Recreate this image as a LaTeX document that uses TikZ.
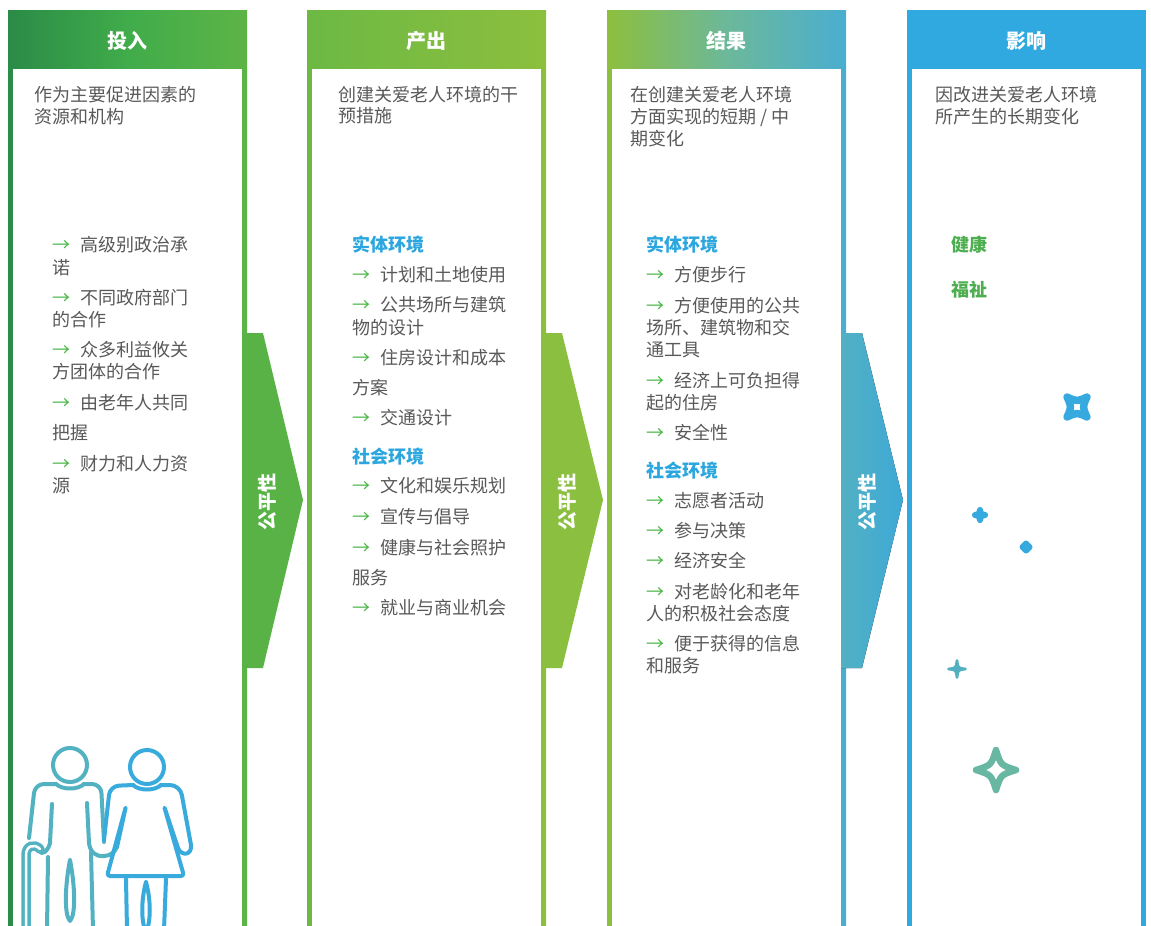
\documentclass[tikz,border=0pt]{standalone}
\usepackage{fontspec}
\setmainfont{Noto Sans CJK SC}

% palette
\definecolor{txt}{HTML}{595959}
\definecolor{secblue}{HTML}{2BA6DE}
\definecolor{goodgreen}{HTML}{4CAE4F}
\definecolor{arrg}{HTML}{4CB748}
\definecolor{c1l}{HTML}{2B8B47}
\definecolor{c1m}{HTML}{40AC4A}
\definecolor{c1r}{HTML}{5DB446}
\definecolor{c2l}{HTML}{6CB944}
\definecolor{c2r}{HTML}{8CBF3E}
\definecolor{c3l}{HTML}{8DBF3E}
\definecolor{c3m}{HTML}{6CB89A}
\definecolor{c3r}{HTML}{4AAED0}
\definecolor{c4}{HTML}{30A9E0}
\definecolor{arrA}{HTML}{58B246}
\definecolor{arrB}{HTML}{8BBF40}
\definecolor{arrCl}{HTML}{52B0C2}
\definecolor{arrCr}{HTML}{3EA9D7}
\definecolor{manc}{HTML}{52B2C2}
\definecolor{womc}{HTML}{38AADC}
\definecolor{starblue}{HTML}{36A9DF}
\definecolor{starteal}{HTML}{52B0C0}
\definecolor{stargrn}{HTML}{68B7A2}

% green arrow bullet with fixed advance
\newcommand{\arr}{\makebox[28pt][l]{\textcolor{arrg}{→}}}

% four-pointed sparkle with concave sides
\tikzset{pics/sparkle/.style 2 args={code={
  \path[pic actions] (0,-#1) .. controls (#2,-#2) .. (#1,0)
    .. controls (#2,#2) .. (0,#1) .. controls (-#2,#2) .. (-#1,0)
    .. controls (-#2,-#2) .. cycle;}}}

\begin{document}
\begin{tikzpicture}[x=1pt,y=-1pt,
  desc/.style={anchor=west,inner sep=0pt,text=txt,font=\fontsize{18}{22}\selectfont},
  sect/.style={desc,text=secblue,font=\fontsize{18}{22}\selectfont\bfseries},
  good/.style={desc,text=goodgreen,font=\fontsize{18}{22}\selectfont\bfseries},
  hdr/.style={text=white,inner sep=0pt,font=\fontsize{20}{24}\selectfont\bfseries},
  eqlabel/.style={text=white,inner sep=0pt,rotate=90,font=\fontsize{19}{22}\selectfont\bfseries},
  icon/.style={line width=4pt,line cap=round,line join=round},
]
\useasboundingbox (0,0) rectangle (1151,926);
\clip (0,0) rectangle (1151,926);

% column frames
\fill[left color=c1l,right color=c1r,middle color=c1m] (8,10) rectangle (247,930);
\fill[white] (13,69) rectangle (242,930);
\fill[left color=c2l,right color=c2r] (307,10) rectangle (546,930);
\fill[white] (312,69) rectangle (541,930);
\fill[left color=c3l,right color=c3r,middle color=c3m] (607,10) rectangle (846,930);
\fill[white] (612,69) rectangle (841,930);
\fill[c4] (907,10) rectangle (1146,930);
\fill[white] (912,69) rectangle (1141,930);

% headers
\node[hdr] (h1) at (127.5,41) {投入};
\node[hdr] (h2) at (426.5,41) {产出};
\node[hdr] (h3) at (726.5,41) {结果};
\node[hdr] (h4) at (1026.5,41) {影响};

% equity arrows between columns
\fill[arrA] (242,333) -- (263,333) -- (303,500) -- (263,668) -- (242,668) -- cycle;
\fill[arrB] (541,333) -- (562,333) -- (603,500) -- (562,668) -- (541,668) -- cycle;
\fill[left color=arrCl,right color=arrCr] (841,333) -- (862,333) -- (903,500) -- (862,668) -- (841,668) -- cycle;
\node[eqlabel] (eq1) at (267,502) {公平性};
\node[eqlabel] (eq2) at (567,502) {公平性};
\node[eqlabel] (eq3) at (867,502) {公平性};

% column 1: inputs
\node[desc] (d1a) at (34,95) {作为主要促进因素的};
\node[desc] (d1b) at (34,117) {资源和机构};
\node[desc] (l1a) at (52,245) {\arr 高级别政治承};
\node[desc] (l1b) at (52,268) {诺};
\node[desc] (l1c) at (52,298) {\arr 不同政府部门};
\node[desc] (l1d) at (52,320) {的合作};
\node[desc] (l1e) at (52,350) {\arr 众多利益攸关};
\node[desc] (l1f) at (52,372) {方团体的合作};
\node[desc] (l1g) at (52,403) {\arr 由老年人共同};
\node[desc] (l1h) at (52,433) {把握};
\node[desc] (l1i) at (52,464) {\arr 财力和人力资};
\node[desc] (l1j) at (52,486) {源};

% column 2: outputs
\node[desc] (d2a) at (338,95) {创建关爱老人环境的干};
\node[desc] (d2b) at (338,116) {预措施};
\node[sect] (s2a) at (352,245) {实体环境};
\node[desc] (l2a) at (352,275) {\arr 计划和土地使用};
\node[desc] (l2b) at (352,305) {\arr 公共场所与建筑};
\node[desc] (l2c) at (352,328) {物的设计};
\node[desc] (l2d) at (352,358) {\arr 住房设计和成本};
\node[desc] (l2e) at (352,388) {方案};
\node[desc] (l2f) at (352,418) {\arr 交通设计};
\node[sect] (s2b) at (352,457) {社会环境};
\node[desc] (l2g) at (352,486) {\arr 文化和娱乐规划};
\node[desc] (l2h) at (352,517) {\arr 宣传与倡导};
\node[desc] (l2i) at (352,548) {\arr 健康与社会照护};
\node[desc] (l2j) at (352,578) {服务};
\node[desc] (l2k) at (352,608) {\arr 就业与商业机会};

% column 3: outcomes
\node[desc] (d3a) at (630,95) {在创建关爱老人环境};
\node[desc] (d3b) at (630,117) {方面实现的短期 / 中};
\node[desc] (d3c) at (630,139) {期变化};
\node[sect] (s3a) at (646,245) {实体环境};
\node[desc] (l3a) at (646,275) {\arr 方便步行};
\node[desc] (l3b) at (646,306) {\arr 方便使用的公共};
\node[desc] (l3c) at (646,328) {场所、建筑物和交};
\node[desc] (l3d) at (646,350) {通工具};
\node[desc] (l3e) at (646,381) {\arr 经济上可负担得};
\node[desc] (l3f) at (646,403) {起的住房};
\node[desc] (l3g) at (646,433) {\arr 安全性};
\node[sect] (s3b) at (646,471) {社会环境};
\node[desc] (l3h) at (646,501) {\arr 志愿者活动};
\node[desc] (l3i) at (646,531) {\arr 参与决策};
\node[desc] (l3j) at (646,561) {\arr 经济安全};
\node[desc] (l3k) at (646,592) {\arr 对老龄化和老年};
\node[desc] (l3l) at (646,614) {人的积极社会态度};
\node[desc] (l3m) at (646,644) {\arr 便于获得的信息};
\node[desc] (l3n) at (646,666) {和服务};

% column 4: impact
\node[desc] (d4a) at (935,95) {因改进关爱老人环境};
\node[desc] (d4b) at (935,117) {所产生的长期变化};
\node[good] (g4a) at (951,245) {健康};
\node[good] (g4b) at (951,290) {福祉};

% sparkles
\pic[draw=starblue,line width=7.5pt,line join=round,rotate=45] at (1077,407) {sparkle={14}{3.8}};
\pic[draw=starblue,fill=starblue,line width=6pt,line join=round] at (980,515) {sparkle={5}{1}};
\pic[draw=starblue,fill=starblue,line width=6pt,line join=round] at (1026,547) {sparkle={3.5}{1.4}};
\pic[draw=starteal,fill=starteal,line width=2.8pt,line join=round] at (957,669) {sparkle={8.5}{0.9}};
\pic[draw=stargrn,line width=6.5pt,line join=round] at (996,770) {sparkle={20}{4.8}};

% elderly couple icon: man with cane
\draw[icon,manc] (70,765) circle (17);
\draw[icon,manc,rounded corners=9] (29,838) -- (35,784) -- (56,784);
\draw[icon,manc] (56,784) .. controls (62,790) and (78,790) .. (84,784);
\draw[icon,manc,rounded corners=9] (84,784) -- (101,784) -- (104,842);
\draw[icon,manc] (52,804) -- (50,843) .. controls (48,851) and (42,856) .. (39,851);
\draw[icon,manc] (48,857) -- (47,930);
\draw[manc,line width=3.5pt,double=white,double distance=2.5pt,line cap=round]
  (26,932) -- (26,855) .. controls (26,846) and (34,843) .. (40,849);
\draw[icon,manc] (87,803) -- (89,843) .. controls (90,852) and (96,857) .. (104,856)
  .. controls (110,856) and (115,852) .. (117,847);
\draw[icon,manc] (91,852) -- (93,930);
\draw[icon,manc] (70,860) .. controls (65,885) and (64,915) .. (70,921)
  .. controls (76,915) and (75,885) .. (70,860);

% woman
\draw[icon,womc] (147,767) circle (17);
\draw[icon,womc,rounded corners=9] (104,840) -- (110,786) -- (133,785);
\draw[icon,womc] (133,785) .. controls (139,791) and (155,791) .. (161,785);
\draw[icon,womc,rounded corners=10] (161,785) -- (180,785) -- (191,845);
\draw[icon,womc] (191,845) .. controls (192,856) and (181,856) .. (178,848);
\draw[icon,womc,rounded corners=3] (178,848) -- (164,806) -- (184,876) -- (107,876) -- (126,806) -- (117,847);
\draw[icon,womc] (126,879) -- (127,930);
\draw[icon,womc] (166,879) -- (164,930);
\draw[icon,womc] (146,882) .. controls (141,900) and (141,922) .. (146,932)
  .. controls (151,922) and (151,900) .. (146,882);
\end{tikzpicture}
\end{document}
